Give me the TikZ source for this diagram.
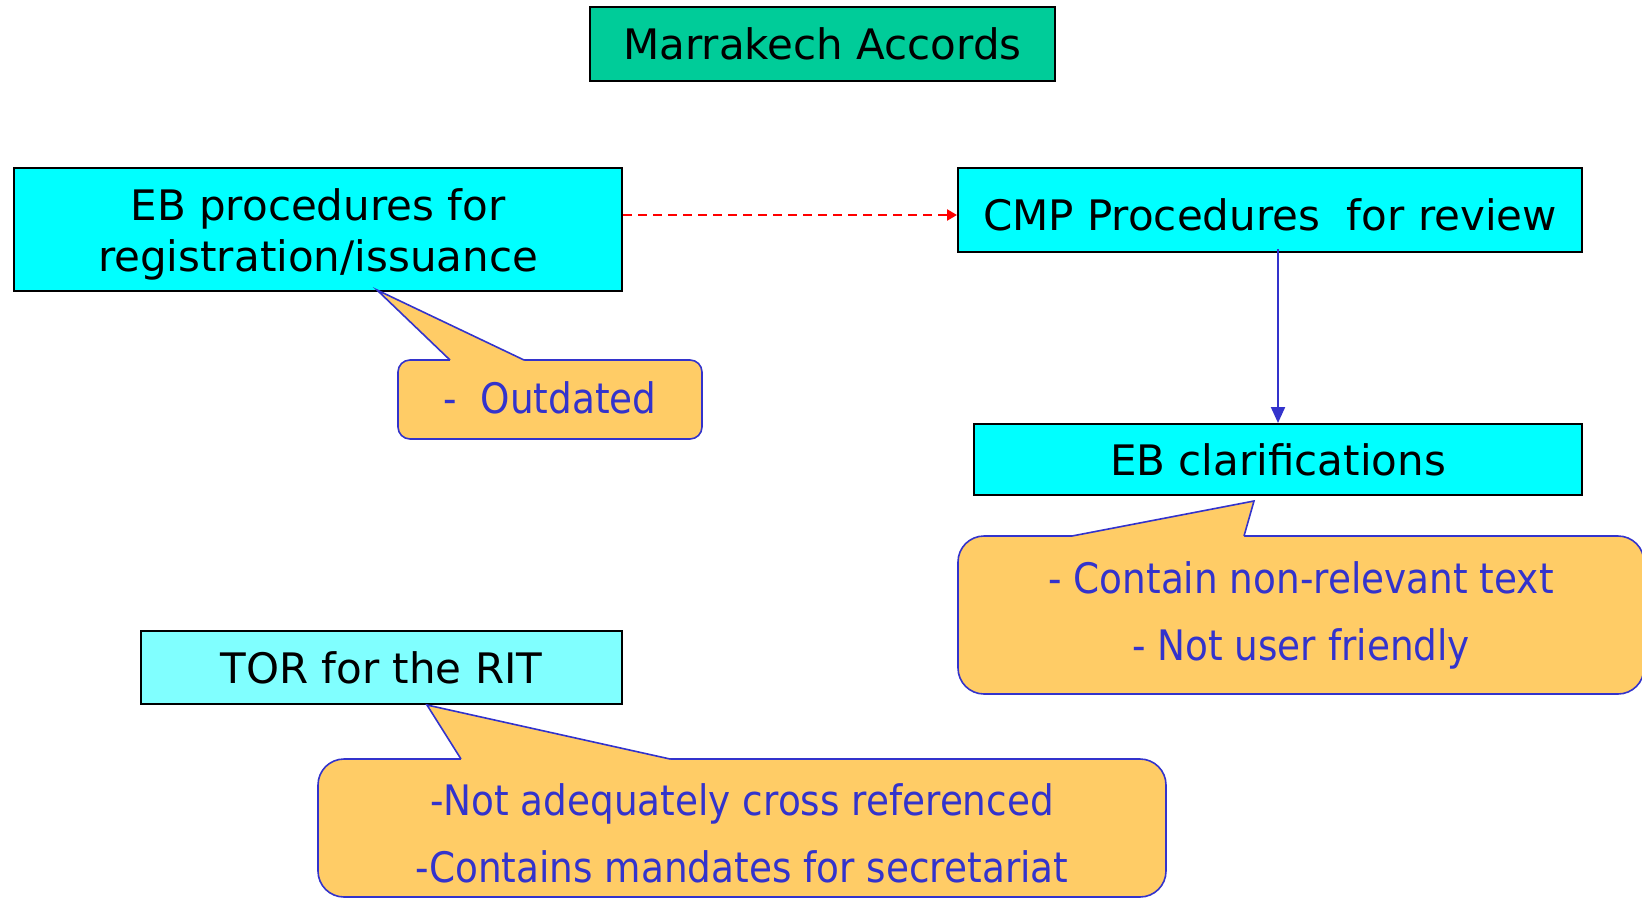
\documentclass[tikz,border=0pt]{standalone}
\usepackage{fontspec}
\setmainfont{DejaVu Sans}
\newfontfamily\notefont[FakeStretch=0.89]{DejaVu Sans}
\usetikzlibrary{arrows.meta}

\definecolor{accgreen}{HTML}{00CC99}
\definecolor{boxcyan}{HTML}{00FFFF}
\definecolor{torcyan}{HTML}{80FFFF}
\definecolor{notefill}{HTML}{FFCC66}
\definecolor{noteblue}{HTML}{3333CC}

% taller first line, pushes the text a little down
\newcommand{\topgap}{\rule{0pt}{21pt}}

\tikzset{
  box/.style={draw=black, line width=1pt, fill=boxcyan, inner sep=0pt,
    align=center, font=\fontsize{21}{25.3}\selectfont},
  note/.style={draw=noteblue, line width=0.8pt, fill=notefill, text=noteblue,
    inner sep=0pt, align=center, font=\notefont\fontsize{21}{33.5}\selectfont},
  pointer/.style={draw=noteblue, line width=0.8pt, line join=miter},
}

\begin{document}
\begin{tikzpicture}[x=0.5pt, y=-0.5pt]
  \useasboundingbox[fill=white] (0,0) rectangle (1642,900);

  % boxes
  \node[box, fill=accgreen, minimum width=232.5pt, minimum height=37pt] (acc) at (822.5,44) {Marrakech Accords};
  \node[box, minimum width=304pt, minimum height=61.5pt] (ebproc) at (318,229.5) {\topgap EB procedures for\\registration/issuance};
  \node[box, minimum width=312pt, minimum height=42pt] (cmp) at (1270,210) {\topgap CMP Procedures\ \ for review};
  \node[box, minimum width=304pt, minimum height=35.5pt] (ebclar) at (1278,459.5) {EB clarifications};
  \node[box, fill=torcyan, minimum width=240.5pt, minimum height=36.5pt] (tor) at (381.5,667.5) {TOR for the RIT};

  % arrows
  \coordinate (dashy) at (0,215);
  \draw[red, line width=1.2pt, dash pattern=on 4.5pt off 3pt, -{Triangle[length=5pt,width=5.5pt]}] (ebproc.east |- dashy) -- (cmp.west |- dashy);
  \draw[noteblue, line width=1pt, -{Triangle[length=8pt,width=7pt]}] ([yshift=2pt]ebclar.north |- cmp.south) -- (ebclar.north);

  % callouts
  \node[note, rounded corners=6pt, minimum width=152pt, minimum height=39.5pt, text depth=2pt] (outnote) at (550,399.5) {-\ \ Outdated};
  \coordinate (outtip) at (377,290);
  \fill[notefill] (450,363) -- (450,360) -- (outtip) -- (524,360) -- (524,363) -- cycle;
  \draw[pointer] (450,360) -- (outtip) -- (524,360);

  \node[note, rounded corners=13pt, minimum width=343pt, minimum height=79pt] (clarnote) at (1301,615) {- Contain non-relevant text\\- Not user friendly};
  \coordinate (clartip) at (1254,501);
  \fill[notefill] (1072,539) -- (1072,536) -- (clartip) -- (1244,536) -- (1244,539) -- cycle;
  \draw[pointer] (1072,536) -- (clartip) -- (1244,536);

  \node[note, rounded corners=13pt, minimum width=424pt, minimum height=69pt] (tornote) at (742,828) {\topgap -Not adequately cross referenced\\-Contains mandates for secretariat};
  \coordinate (tortip) at (427,705);
  \fill[notefill] (461,762) -- (461,759) -- (tortip) -- (670,759) -- (670,762) -- cycle;
  \draw[pointer] (461,759) -- (tortip) -- (670,759);
\end{tikzpicture}
\end{document}
